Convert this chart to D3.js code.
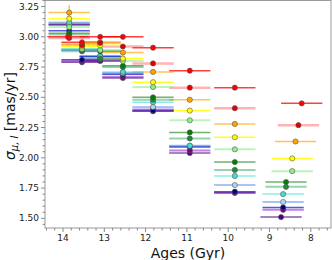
<!DOCTYPE html>
<html><head><meta charset="utf-8">
<script src="https://cdn.jsdelivr.net/npm/d3@7"></script>
<style>body{margin:0;background:#fff}svg{display:block}</style>
</head><body>
<svg id="c" width="332" height="260"></svg>
<script>
// ---- data ----
const columnAges = [13.85, 13.54, 13.10, 12.55, 11.82, 10.93, 9.84];
const lastColumnAges = [8.22, 8.30, 8.37, 8.45, 8.45, 8.60, 8.60, 8.67, 8.67, 8.67, 8.67, 8.72];
const firstColumnRedAge = 13.88;
const sigmaValues = [
  [3.00, 2.955, 3.00, 3.00, 2.91, 2.72, 2.58, 2.45],
  [2.99, 2.93, 2.95, 2.92, 2.78, 2.58, 2.41, 2.27],
  [3.20, 2.94, 2.955, 2.87, 2.71, 2.48, 2.28, 2.135],
  [3.15, 2.92, 2.93, 2.82, 2.625, 2.39, 2.17, 1.995],
  [3.08, 2.90, 2.89, 2.80, 2.585, 2.31, 2.07, 1.89],
  [3.03, 2.89, 2.88, 2.76, 2.50, 2.21, 1.965, 1.80],
  [3.02, 2.88, 2.82, 2.75, 2.48, 2.16, 1.90, 1.76],
  [3.12, 2.90, 2.84, 2.71, 2.46, 2.10, 1.85, 1.70],
  [3.10, 2.89, 2.83, 2.70, 2.42, 2.10, 1.775, 1.635],
  [3.05, 2.81, 2.84, 2.69, 2.39, 2.09, 1.72, 1.59],
  [3.11, 2.80, 2.81, 2.67, 2.40, 2.06, 1.715, 1.57],
  [3.10, 2.79, 2.80, 2.66, 2.385, 2.04, 1.71, 1.51]
];
const sigmaErrors = [
  [0.03, 0.02, 0.015, 0.015, 0.015, 0.015, 0.015, 0.015],
  [0.015, 0.02, 0.015, 0.015, 0.015, 0.015, 0.015, 0.015],
  [0.06, 0.015, 0.015, 0.015, 0.015, 0.015, 0.015, 0.015],
  [0.015, 0.015, 0.015, 0.015, 0.015, 0.015, 0.015, 0.015],
  [0.015, 0.015, 0.015, 0.015, 0.015, 0.015, 0.015, 0.015],
  [0.015, 0.015, 0.02, 0.015, 0.02, 0.015, 0.015, 0.015],
  [0.015, 0.015, 0.015, 0.015, 0.015, 0.015, 0.015, 0.015],
  [0.015, 0.015, 0.015, 0.015, 0.015, 0.015, 0.015, 0.015],
  [0.015, 0.015, 0.015, 0.015, 0.015, 0.015, 0.015, 0.015],
  [0.015, 0.03, 0.02, 0.015, 0.015, 0.015, 0.015, 0.015],
  [0.015, 0.015, 0.015, 0.015, 0.015, 0.015, 0.015, 0.015],
  [0.015, 0.015, 0.015, 0.015, 0.015, 0.015, 0.015, 0.015]
];
const ageError = 0.5;
const xTicks = [14, 13, 12, 11, 10, 9, 8];
const yTicks = [1.50, 1.75, 2.00, 2.25, 2.50, 2.75, 3.00, 3.25];

// ---- styles ----
const barColors = ["#ff0000","#ff4040","#ffa500","#ffff00","#90ee90","#228b22","#3cb371","#40e0d0","#6495ed","#0000cd","#9932cc","#4b0082"];
const barOpacity = [0.75,0.4,0.65,0.85,0.6,0.65,0.55,0.6,0.55,0.65,0.6,0.65];
const barWidth = [1.5,2.5,1.5,1.5,2,1.5,2,1.5,2,1.5,2,1.5];
const markerFill = ["#ff0000","#e00000","#ffa500","#ffff00","#90ee90","#008000","#1e8b3a","#40e0d0","#add8e6","#00008b","#800080","#4b0082"];

const svg = d3.select("#c");
const L = 45, R = 331, T = 0.5, B = 228;
const x = d3.scaleLinear().domain([14.436, 7.511]).range([L, R]);
const y = d3.scaleLinear().domain([1.42, 3.30]).range([B, T]);

const points = [];
sigmaValues.forEach((vals, s) => {
  vals.forEach((v, i) => {
    let age = i < columnAges.length ? columnAges[i] : lastColumnAges[s];
    if (s === 0 && i === 0) age = firstColumnRedAge;
    points.push({s, age, v, e: sigmaErrors[s][i]});
  });
});

const g = svg.append("g");
points.forEach(p => {
  g.append("line").attr("x1", x(p.age - ageError)).attr("x2", x(p.age + ageError))
    .attr("y1", y(p.v)).attr("y2", y(p.v))
    .attr("stroke", barColors[p.s]).attr("stroke-opacity", barOpacity[p.s]).attr("stroke-width", barWidth[p.s]);
  g.append("line").attr("x1", x(p.age)).attr("x2", x(p.age))
    .attr("y1", y(p.v - p.e)).attr("y2", y(p.v + p.e))
    .attr("stroke", barColors[p.s]).attr("stroke-opacity", Math.min(1, barOpacity[p.s] + 0.2)).attr("stroke-width", 1.2);
});
points.slice().sort((a, b) => b.s - a.s).forEach(p => {
  g.append("circle").attr("cx", x(p.age)).attr("cy", y(p.v)).attr("r", 2.6)
    .attr("fill", markerFill[p.s]).attr("stroke", "#555").attr("stroke-width", 0.6);
});

// frame
svg.append("rect").attr("x", L).attr("y", T).attr("width", R - L).attr("height", B - T)
  .attr("fill", "none").attr("stroke", "#999").attr("stroke-width", 1);

// x axis
const xa = svg.append("g").attr("transform", `translate(0,${B})`);
const minorX = d3.range(7.6, 14.41, 0.2).filter(t => Math.abs(t - Math.round(t)) > 0.01);
xa.selectAll(".mn").data(minorX).join("line").attr("x1", d => x(d)).attr("x2", d => x(d))
  .attr("y1", 0).attr("y2", 2.5).attr("stroke", "#888");
xa.selectAll(".mj").data(xTicks).join("line").attr("x1", d => x(d)).attr("x2", d => x(d))
  .attr("y1", 0).attr("y2", 4).attr("stroke", "#888");
xa.selectAll("text").data(xTicks).join("text").attr("x", d => x(d)).attr("y", 12.5)
  .attr("text-anchor", "middle").attr("font-family", "DejaVu Sans").attr("font-size", 9).attr("fill", "#222")
  .text(d => d);

// y axis
const ya = svg.append("g").attr("transform", `translate(${L},0)`);
const minorY = d3.range(1.45, 3.301, 0.05).filter(t => Math.abs(t * 4 - Math.round(t * 4)) > 0.01);
ya.selectAll(".mn").data(minorY).join("line").attr("y1", d => y(d)).attr("y2", d => y(d))
  .attr("x1", 0).attr("x2", -2.5).attr("stroke", "#888");
ya.selectAll(".mj").data(yTicks).join("line").attr("y1", d => y(d)).attr("y2", d => y(d))
  .attr("x1", 0).attr("x2", -4).attr("stroke", "#888");
ya.selectAll("text").data(yTicks).join("text").attr("x", -6).attr("y", d => y(d)).attr("dy", "0.35em")
  .attr("text-anchor", "end").attr("font-family", "DejaVu Sans").attr("font-size", 9).attr("fill", "#222")
  .text(d => d.toFixed(2));

// labels
svg.append("text").attr("x", 188).attr("y", 257.5).attr("text-anchor", "middle")
  .attr("font-family", "DejaVu Sans").attr("font-size", 14).attr("fill", "#111").text("Ages (Gyr)");
const yl = svg.append("text").attr("transform", "translate(15,116) rotate(-90)").attr("text-anchor", "middle")
  .attr("font-family", "DejaVu Sans").attr("font-size", 14).attr("fill", "#111");
yl.append("tspan").attr("font-style", "italic").text("σ");
yl.append("tspan").attr("font-style", "italic").attr("font-size", 10).attr("dy", 3).text("μ, l");
yl.append("tspan").attr("dy", -3).text(" [mas/yr]");
</script>
</body></html>
